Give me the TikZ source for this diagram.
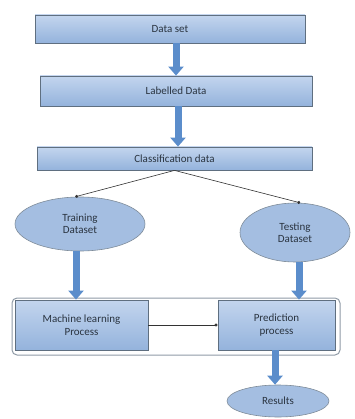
\documentclass[tikz,border=0pt]{standalone}
\usepackage{fontspec}
\setmainfont{Carlito}
\usetikzlibrary{shapes.geometric,arrows.meta,positioning}
\definecolor{boxtop}{HTML}{C3D5EE}
\definecolor{boxbot}{HTML}{94B3DC}
\definecolor{boxline}{HTML}{5F6F80}
\definecolor{arrowblue}{HTML}{5B8DCB}
\definecolor{txt}{HTML}{2A3440}
\tikzset{
  box/.style={rectangle, draw=boxline, line width=0.8pt, top color=boxtop, bottom color=boxbot,
    inner sep=0pt, align=center, font=\fontsize{11}{12.5}\selectfont, text=txt},
  oval/.style={ellipse, draw=boxline!80, line width=0.6pt, fill=boxbot!85!white,
    inner sep=0pt, align=center, font=\fontsize{11}{12.5}\selectfont, text=txt},
  bigarrow/.style={draw=arrowblue, line width=7pt,
    -{Triangle[width=15pt,length=9pt]}, shorten <=-0.5pt},
  thinarrow/.style={draw=black!80, line width=0.6pt, -{Circle[length=3pt]}}
}
\begin{document}
\begin{tikzpicture}[x=1pt,y=-1pt]
\useasboundingbox (0,0) rectangle (354,419);
% outer frame
\node[draw=boxline!70, line width=1pt, rounded corners=5pt, minimum width=328pt, minimum height=57pt, inner sep=0pt] (frame) at (176,326.5) {};
\node[box, minimum width=270pt, minimum height=28pt] (ds) at (170,29) {Data set};
\node[box, minimum width=272pt, minimum height=30pt] (ld) at (176,91) {Labelled Data};
\node[box, minimum width=275pt, minimum height=23pt] (cd) at (174.5,158.5) {Classification data};
\node[oval, minimum width=130pt, minimum height=54pt] (tr) at (80,224) {Training\\Dataset};
\node[oval, minimum width=110pt, minimum height=59pt] (te) at (295,232.5) {Testing\\Dataset};
\node[box, minimum width=133pt, minimum height=50pt] (ml) at (81.5,325) {Machine learning\\Process};
\node[box, minimum width=117pt, minimum height=50pt] (pp) at (276.5,325) {Prediction\\process};
\node[oval, minimum width=102pt, minimum height=32pt] (rs) at (278,401) {Results};
% block arrows
\draw[bigarrow] (ds.south -| 176,0) -- (ld.north -| 176,0);
\draw[bigarrow] (ld.south -| 178,0) -- (cd.north -| 178,0);
\draw[bigarrow] (tr.south -| 76,0) -- (ml.north -| 76,0);
\draw[bigarrow] (te.south -| 299,0) -- (pp.north -| 299,0);
\draw[bigarrow] (pp.south -| 275,0) -- (rs.north -| 275,0);
% thin arrows
\draw[thinarrow] (cd.south) -- (tr.100);
\draw[thinarrow] (cd.south) -- (te.80);
\draw[thinarrow] (ml.east) -- (pp.west);
\end{tikzpicture}
\end{document}
